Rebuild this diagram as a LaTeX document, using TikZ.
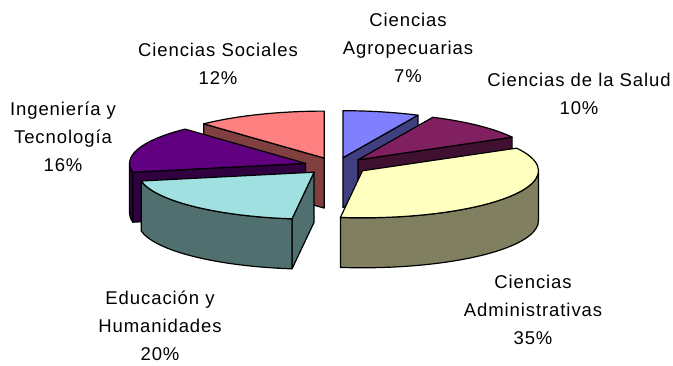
\documentclass[tikz,border=0pt]{standalone}
\usepackage{fontspec}
\setmainfont[LetterSpace=5]{Liberation Sans}
\usetikzlibrary{calc}

\def\rx{176}
\def\ry{47}
\def\depth{50}

\begin{document}
\begin{tikzpicture}[x=1pt,y=1pt,line join=round]
    \tikzstyle{face}=[draw=black,line width=1.2pt]
    \tikzstyle{annot}=[align=center,inner sep=0pt,font=\fontsize{18.5}{28}\selectfont]

    \useasboundingbox (0,0) rectangle (673,-365);
    \coordinate (ctr) at (336,-166);

    % Pull every slice a little out of the centre
    \foreach \name/\mid in {soc/111.6,agro/77.4,sal/46.8,adm/-34.2,edu/-133.2,ing/162}
        \coordinate (c-\name) at ($(ctr)+(\mid:32 and 8.5)$);

    % Ciencias Sociales
    \filldraw[face,fill={rgb,255:red,128;green,64;blue,64}] (c-soc) -- ++(133.2:\rx pt and \ry pt) -- ++(0,-\depth) -- ([yshift=-\depth pt]c-soc) -- cycle;
    \filldraw[face,fill={rgb,255:red,255;green,128;blue,128}] (c-soc) -- ++(133.2:\rx pt and \ry pt) arc[start angle=133.2,end angle=90,x radius=\rx pt,y radius=\ry pt] -- cycle;

    % Ciencias Agropecuarias
    \filldraw[face,fill={rgb,255:red,64;green,64;blue,128}] (c-agro) -- ++(64.8:\rx pt and \ry pt) -- ++(0,-\depth) -- ([yshift=-\depth pt]c-agro) -- cycle;
    \filldraw[face,fill={rgb,255:red,128;green,128;blue,255}] (c-agro) -- ++(90:\rx pt and \ry pt) arc[start angle=90,end angle=64.8,x radius=\rx pt,y radius=\ry pt] -- cycle;

    % Ciencias de la Salud
    \filldraw[face,fill={rgb,255:red,64;green,16;blue,48}] (c-sal) -- ++(28.8:\rx pt and \ry pt) -- ++(0,-\depth) -- ([yshift=-\depth pt]c-sal) -- cycle;
    \filldraw[face,fill={rgb,255:red,128;green,32;blue,96}] (c-sal) -- ++(64.8:\rx pt and \ry pt) arc[start angle=64.8,end angle=28.8,x radius=\rx pt,y radius=\ry pt] -- cycle;

    % Ingenieria y Tecnologia
    \filldraw[face,fill={rgb,255:red,48;green,0;blue,64}] (c-ing) -- ++(190.8:\rx pt and \ry pt) -- ++(0,-\depth) -- ([yshift=-\depth pt]c-ing) -- cycle;
    \filldraw[face,fill={rgb,255:red,48;green,0;blue,64}] (c-ing) ++(190.8:\rx pt and \ry pt) arc[start angle=190.8,end angle=180,x radius=\rx pt,y radius=\ry pt] -- ++(0,-\depth) arc[start angle=180,end angle=190.8,x radius=\rx pt,y radius=\ry pt] -- cycle;
    \filldraw[face,fill={rgb,255:red,96;green,0;blue,128}] (c-ing) -- ++(190.8:\rx pt and \ry pt) arc[start angle=190.8,end angle=133.2,x radius=\rx pt,y radius=\ry pt] -- cycle;

    % Ciencias Administrativas
    \filldraw[face,fill={rgb,255:red,128;green,128;blue,96}] (c-adm) ++(0:\rx pt and \ry pt) arc[start angle=0,end angle=-97.2,x radius=\rx pt,y radius=\ry pt] -- ++(0,-\depth) arc[start angle=-97.2,end angle=0,x radius=\rx pt,y radius=\ry pt] -- cycle;
    \filldraw[face,fill={rgb,255:red,255;green,255;blue,192}] (c-adm) -- ++(28.8:\rx pt and \ry pt) arc[start angle=28.8,end angle=-97.2,x radius=\rx pt,y radius=\ry pt] -- cycle;

    % Educacion y Humanidades
    \filldraw[face,fill={rgb,255:red,80;green,112;blue,112}] (c-edu) -- ++(-97.2:\rx pt and \ry pt) -- ++(0,-\depth) -- ([yshift=-\depth pt]c-edu) -- cycle;
    \filldraw[face,fill={rgb,255:red,80;green,112;blue,112}] (c-edu) ++(-97.2:\rx pt and \ry pt) arc[start angle=-97.2,end angle=-169.2,x radius=\rx pt,y radius=\ry pt] -- ++(0,-\depth) arc[start angle=-169.2,end angle=-97.2,x radius=\rx pt,y radius=\ry pt] -- cycle;
    \filldraw[face,fill={rgb,255:red,160;green,224;blue,224}] (c-edu) -- ++(-97.2:\rx pt and \ry pt) arc[start angle=-97.2,end angle=-169.2,x radius=\rx pt,y radius=\ry pt] -- cycle;

    % Labels
    \node[annot] (l-soc) at (218,-64) {Ciencias Sociales\\12\%};
    \node[annot] (l-agro) at (408,-48) {Ciencias\\Agropecuarias\\7\%};
    \node[annot] (l-sal) at (579,-94) {Ciencias de la Salud\\10\%};
    \node[annot] (l-ing) at (63,-137) {Ingeniería y\\Tecnología\\16\%};
    \node[annot] (l-edu) at (160,-326) {Educación y\\Humanidades\\20\%};
    \node[annot] (l-adm) at (533,-310) {Ciencias\\Administrativas\\35\%};
\end{tikzpicture}
\end{document}
